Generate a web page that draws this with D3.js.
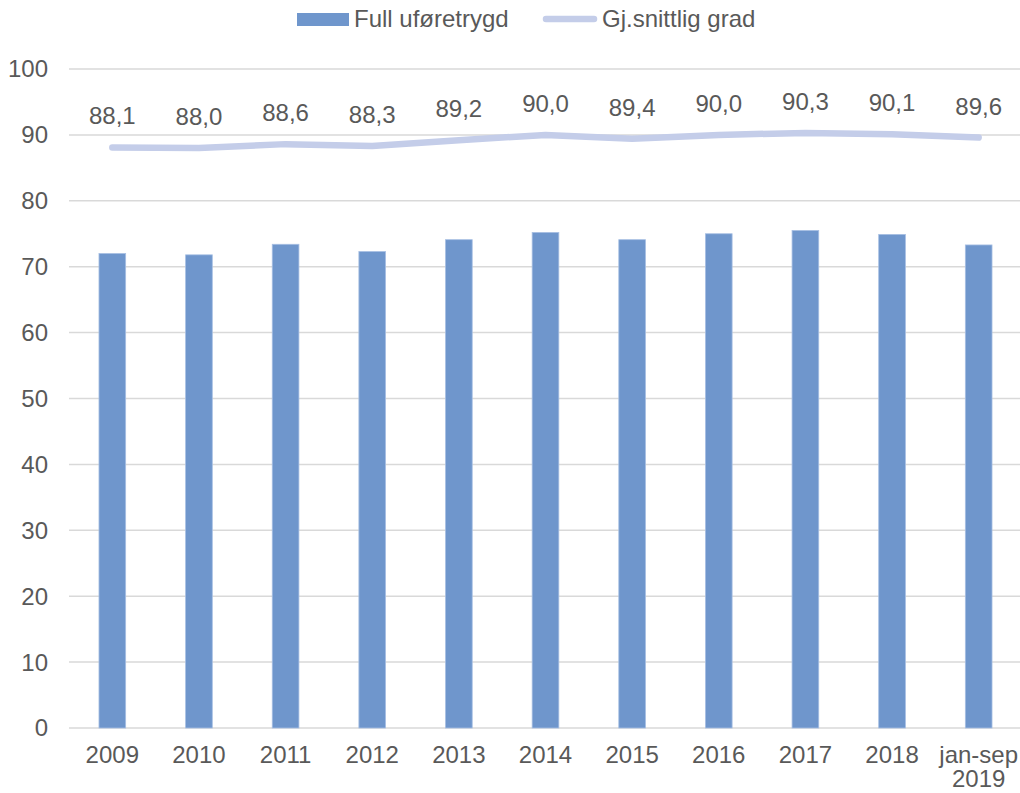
<!DOCTYPE html>
<html lang="no">
<head>
<meta charset="UTF-8" />
<title>Full uføretrygd og gjennomsnittlig grad</title>
<script src="https://cdn.jsdelivr.net/npm/d3@7/dist/d3.min.js"></script>
<style>
    body { margin: 0; background: #fff; font-family: "Liberation Sans", Arial, sans-serif; }
    svg text { fill: #595959; }
</style>
</head>
<body>
<svg id="chart"></svg>
<script>
    const categories = ["2009", "2010", "2011", "2012", "2013", "2014", "2015", "2016", "2017", "2018", "jan-sep\n2019"];
    const fullUforetrygd = [72.0, 71.8, 73.4, 72.3, 74.1, 75.2, 74.1, 75.0, 75.5, 74.9, 73.3];
    const snittligGrad = [88.1, 88.0, 88.6, 88.3, 89.2, 90.0, 89.4, 90.0, 90.3, 90.1, 89.6];
    const yTicks = [0, 10, 20, 30, 40, 50, 60, 70, 80, 90, 100];

    const width = 1020, height = 793;
    const margin = { top: 69, right: -2, bottom: 65, left: 69 };
    const fontSize = "24px";

    const svg = d3.select("#chart").attr("width", width).attr("height", height);

    const x = d3.scaleBand()
        .domain(categories)
        .range([margin.left, width - margin.right])
        .paddingInner(0.692)
        .paddingOuter(0.346);

    const y = d3.scaleLinear()
        .domain([0, 100])
        .range([height - margin.bottom, margin.top]);

    const cx = d => x(d) + x.bandwidth() / 2;

    // gridlines
    svg.append("g")
        .selectAll("line")
        .data(yTicks)
        .enter().append("line")
        .attr("x1", margin.left)
        .attr("x2", width - margin.right)
        .attr("y1", d => y(d))
        .attr("y2", d => y(d))
        .style("stroke", "#d9d9d9")
        .style("stroke-width", 1.5);

    // y tick labels
    svg.append("g")
        .selectAll("text")
        .data(yTicks)
        .enter().append("text")
        .attr("x", margin.left - 21)
        .attr("y", d => y(d))
        .attr("dy", "0.35em")
        .attr("text-anchor", "end")
        .style("font-size", fontSize)
        .text(d => d);

    // bars
    svg.append("g")
        .selectAll("rect")
        .data(fullUforetrygd)
        .enter().append("rect")
        .attr("x", (d, i) => x(categories[i]))
        .attr("width", x.bandwidth())
        .attr("y", d => y(d))
        .attr("height", d => y(0) - y(d))
        .style("fill", "#6f96cc")
        .style("stroke", "#a7bfe3")
        .style("stroke-width", 0.8);

    // line
    const line = d3.line()
        .x((d, i) => cx(categories[i]))
        .y(d => y(d));

    svg.append("path")
        .datum(snittligGrad)
        .attr("d", line)
        .style("fill", "none")
        .style("stroke", "#c4cde9")
        .style("stroke-width", 6.5)
        .style("stroke-linecap", "round")
        .style("stroke-linejoin", "round");

    // line data labels
    svg.append("g")
        .selectAll("text")
        .data(snittligGrad)
        .enter().append("text")
        .attr("x", (d, i) => cx(categories[i]))
        .attr("y", d => y(d) - 23)
        .attr("text-anchor", "middle")
        .style("font-size", fontSize)
        .text(d => d.toFixed(1).replace(".", ","));

    // x labels
    const xl = svg.append("g")
        .selectAll("text")
        .data(categories)
        .enter().append("text")
        .attr("x", d => cx(d))
        .attr("y", height - margin.bottom + 35)
        .attr("text-anchor", "middle")
        .style("font-size", fontSize);

    xl.each(function (d) {
        const t = d3.select(this);
        d.split("\n").forEach((part, k) => {
            t.append("tspan")
                .attr("x", cx(d))
                .attr("dy", k === 0 ? 0 : 24)
                .text(part);
        });
    });

    // legend
    const legend = svg.append("g");
    legend.append("rect")
        .attr("x", 297).attr("y", 13)
        .attr("width", 52).attr("height", 13)
        .style("fill", "#6f96cc");
    legend.append("text")
        .attr("x", 354).attr("y", 27)
        .style("font-size", fontSize)
        .text("Full uføretrygd");
    legend.append("line")
        .attr("x1", 546).attr("x2", 594)
        .attr("y1", 19).attr("y2", 19)
        .style("stroke", "#c4cde9")
        .style("stroke-width", 6.5)
        .style("stroke-linecap", "round");
    legend.append("text")
        .attr("x", 602).attr("y", 27)
        .style("font-size", fontSize)
        .text("Gj.snittlig grad");
</script>
</body>
</html>
